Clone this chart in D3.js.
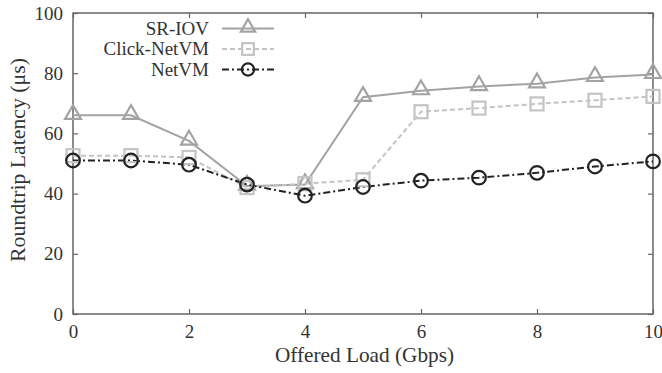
<!DOCTYPE html>
<html>
<head>
<meta charset="utf-8">
<script src="https://cdn.jsdelivr.net/npm/d3@7"></script>
<style>
  body { margin: 0; background: #fff; }
  text { font-family: "Liberation Serif", "DejaVu Serif", serif; fill: #333; }
</style>
</head>
<body>
<div id="chart"></div>
<script>
// offered load (Gbps) and latencies (us)
const loads = [0, 1, 2, 3, 4, 5, 6, 7, 8, 9, 10];
const srIov = [66, 66, 57.5, 42.5, 43, 72, 74.2, 75.6, 76.5, 78.6, 79.6];
const clickNetVM = [52.6, 52.6, 52, 42, 43.3, 44.6, 67.2, 68.4, 69.8, 71, 72.3];
const netVM = [51, 51, 49.6, 43, 39.3, 42.2, 44.3, 45.3, 46.9, 49, 50.7];
const xTicks = [0, 2, 4, 6, 8, 10];
const yTicks = [0, 20, 40, 60, 80, 100];
const seriesNames = ["SR-IOV", "Click-NetVM", "NetVM"];

const W = 662, H = 373;
const margin = {top: 13, right: 9, bottom: 59, left: 73};
const width = W - margin.left - margin.right,
      height = H - margin.top - margin.bottom;

const svg = d3.select("#chart").append("svg")
    .attr("width", W).attr("height", H);
const g = svg.append("g")
    .attr("transform", `translate(${margin.left},${margin.top})`);

const x = d3.scaleLinear().domain([0, 10]).range([0, width]);
const y = d3.scaleLinear().domain([0, 100]).range([height, 0]);

const frameColor = "#666";

// axes with inward ticks on all four sides
const bottom = g.append("g").attr("transform", `translate(0,${height})`)
    .call(d3.axisBottom(x).tickValues(xTicks).tickSize(-5).tickPadding(10).tickSizeOuter(0));
const left = g.append("g")
    .call(d3.axisLeft(y).tickValues(yTicks).tickSize(-5).tickPadding(10).tickSizeOuter(0));
g.append("g")
    .call(d3.axisTop(x).tickValues(xTicks).tickSize(-5).tickFormat("").tickSizeOuter(0));
g.append("g").attr("transform", `translate(${width},0)`)
    .call(d3.axisRight(y).tickValues(yTicks).tickSize(-5).tickFormat("").tickSizeOuter(0));

g.selectAll(".domain").remove();
g.selectAll(".tick line").attr("stroke", frameColor).attr("stroke-width", 1.2);
g.selectAll(".tick text").style("font-size", "19px").attr("fill", "#333");
bottom.selectAll(".tick text").attr("dy", "0.72em");

g.append("rect")
    .attr("width", width).attr("height", height)
    .attr("fill", "none").attr("stroke", frameColor).attr("stroke-width", 1.5);

// axis titles
svg.append("text")
    .attr("x", 364.5).attr("y", 362)
    .attr("text-anchor", "middle")
    .attr("textLength", 179).attr("lengthAdjust", "spacingAndGlyphs")
    .style("font-size", "22px")
    .text("Offered Load (Gbps)");
svg.append("text")
    .attr("transform", "translate(25,160) rotate(-90)")
    .attr("text-anchor", "middle")
    .attr("textLength", 204).attr("lengthAdjust", "spacingAndGlyphs")
    .style("font-size", "22px")
    .text("Roundtrip Latency (μs)");

const series = [
  {name: seriesNames[0], values: srIov, color: "#a3a3a3", dash: null, shape: "triangle"},
  {name: seriesNames[1], values: clickNetVM, color: "#c4c4c4", dash: "5,3", shape: "square"},
  {name: seriesNames[2], values: netVM, color: "#222", dash: "7,3,2,3", shape: "circle"}
];

function drawMarker(sel, shape, color, k) {
  if (shape === "triangle") {
    sel.append("path")
      .attr("d", d3.symbol().type(d3.symbolTriangle).size(110 * k * k)())
      .attr("transform", "translate(0,-1)");
  } else if (shape === "square") {
    sel.append("rect").attr("x", -6.5 * k).attr("y", -6.5 * k)
      .attr("width", 13 * k).attr("height", 13 * k);
  } else {
    sel.append("circle").attr("r", 6.8 * k);
  }
  sel.selectAll("path, rect, circle")
    .attr("fill", "none").attr("stroke", color).attr("stroke-width", 2.2);
}

const line = d3.line()
    .x((d, i) => x(loads[i]))
    .y(d => y(d));

series.forEach(s => {
  g.append("path")
    .datum(s.values)
    .attr("fill", "none")
    .attr("stroke", s.color)
    .attr("stroke-width", 2)
    .attr("stroke-dasharray", s.dash)
    .attr("d", line);
});
series.forEach(s => {
  g.selectAll(null)
    .data(s.values)
    .enter().append("g")
    .attr("transform", (d, i) => `translate(${x(loads[i])},${y(d)})`)
    .each(function () { drawMarker(d3.select(this), s.shape, s.color, 1); });
});

// legend
const legend = svg.append("g");
series.forEach((s, i) => {
  const ly = 28.5 + i * 20.5;
  legend.append("text")
    .attr("x", 209).attr("y", ly).attr("dy", "0.34em")
    .attr("text-anchor", "end")
    .style("font-size", "19px")
    .text(s.name);
  legend.append("line")
    .attr("x1", 222).attr("x2", 274).attr("y1", ly).attr("y2", ly)
    .attr("stroke", s.color).attr("stroke-width", 2)
    .attr("stroke-dasharray", s.dash);
  const m = legend.append("g").attr("transform", `translate(248,${ly})`);
  drawMarker(m, s.shape, s.color, 0.9);
});
</script>
</body>
</html>
